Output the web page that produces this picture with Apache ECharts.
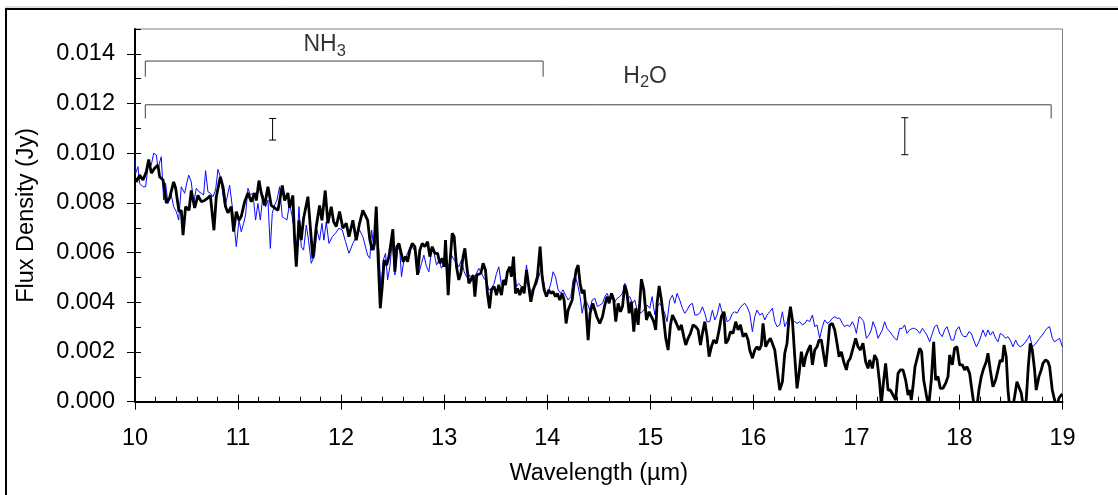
<!DOCTYPE html>
<html><head><meta charset="utf-8">
<script src="https://cdn.jsdelivr.net/npm/echarts@6/dist/echarts.min.js"></script>
<style>html,body{margin:0;padding:0;background:#fff}#c{width:1118px;height:495px}</style>
</head><body><div id="c"></div>
<script>
// Flux in mJy (axis labels shown in Jy), wavelength in micrometres
const blackSpectrum = [
[10.00,9.0],[10.013,8.85],[10.045,9.12],[10.078,8.92],[10.11,9.26],[10.133,9.75],[10.158,9.2],[10.191,9.4],[10.223,9.52],[10.239,9.05],[10.272,8.92],[10.304,8.0],[10.336,8.2],[10.375,8.85],[10.394,8.6],[10.427,7.65],[10.449,7.7],[10.466,6.7],[10.491,7.85],[10.524,7.7],[10.546,8.5],[10.579,7.8],[10.611,8.3],[10.643,8.05],[10.676,8.1],[10.708,8.2],[10.731,8.3],[10.766,6.9],[10.789,8.25],[10.828,9.05],[10.854,8.65],[10.879,7.85],[10.902,7.6],[10.934,7.85],[10.957,6.85],[10.983,7.65],[11.009,7.3],[11.031,7.45],[11.064,8.05],[11.096,8.4],[11.128,8.05],[11.161,8.4],[11.177,8.1],[11.203,8.9],[11.225,8.4],[11.258,7.9],[11.29,8.65],[11.322,7.9],[11.355,7.8],[11.387,7.7],[11.429,8.7],[11.452,8.1],[11.484,8.4],[11.5,7.8],[11.532,8.3],[11.549,6.5],[11.565,5.43],[11.591,7.3],[11.613,6.5],[11.636,7.38],[11.655,7.3],[11.678,8.25],[11.701,7.05],[11.726,5.77],[11.743,6.37],[11.759,7.05],[11.791,7.9],[11.814,7.3],[11.846,8.5],[11.872,7.18],[11.904,7.85],[11.927,7.25],[11.953,7.05],[11.985,7.65],[12.017,6.98],[12.05,7.18],[12.076,6.64],[12.114,7.3],[12.147,6.5],[12.179,7.18],[12.211,7.7],
[12.257,7.31],[12.279,6.51],[12.302,6.1],[12.321,6.37],[12.341,7.85],[12.36,5.7],[12.38,3.76],[12.399,4.63],[12.418,5.7],[12.441,5.5],[12.464,5.84],[12.483,6.37],[12.502,6.94],[12.522,5.23],[12.541,6.24],[12.561,6.37],[12.58,6.44],[12.603,5.63],[12.625,5.84],[12.645,5.63],[12.667,6.1],[12.69,6.37],[12.716,6.24],[12.742,5.1],[12.764,6.1],[12.787,6.37],[12.813,6.24],[12.839,6.44],[12.861,5.84],[12.884,6.24],[12.91,5.97],[12.936,5.97],[12.958,5.57],[12.981,5.77],[13.0,5.43],[13.013,6.51],[13.039,4.29],[13.058,5.7],[13.078,6.78],[13.097,6.64],[13.12,5.43],[13.142,4.9],[13.162,5.17],[13.184,5.84],[13.201,6.17],[13.22,5.43],[13.24,4.76],[13.259,4.9],[13.282,5.1],[13.298,4.23],[13.317,5.1],[13.336,5.03],[13.356,5.17],[13.378,5.57],[13.401,5.3],[13.42,4.36],[13.44,3.76],[13.459,4.5],[13.485,4.63],[13.508,4.29],[13.53,4.7],[13.556,4.29],[13.576,4.9],[13.595,4.7],[13.614,5.23],[13.637,5.43],[13.653,5.03],[13.673,5.84],[13.692,4.36],[13.712,4.56],[13.734,4.29],[13.757,4.63],[13.776,4.36],[13.799,5.3],[13.821,4.63],[13.841,4.02],[13.864,4.5],[13.886,4.76],[13.905,5.03],[13.931,6.24],[13.951,5.03],[13.97,4.5],[13.993,4.23],[14.015,4.5],[14.035,4.36],[14.057,4.43],[14.08,4.23],[14.099,4.36],[14.122,4.09],[14.145,4.36],[14.164,4.09],[14.183,3.15],[14.203,3.69],[14.222,3.69],[14.242,4.09],[14.261,4.76],[14.281,5.3],[14.3,5.5],[14.319,4.76],[14.339,4.36],[14.358,4.5],[14.377,3.69],[14.397,2.48],[14.416,3.56],[14.442,3.96],[14.462,3.69],[14.481,3.42],
[14.51,3.15],[14.536,3.42],[14.559,3.89],[14.581,4.23],[14.601,3.96],[14.623,4.36],[14.646,4.09],[14.665,3.22],[14.688,3.96],[14.711,3.62],[14.73,3.82],[14.753,4.7],[14.775,4.36],[14.795,3.56],[14.817,4.02],[14.84,2.82],[14.859,3.76],[14.882,3.09],[14.898,3.15],[14.914,4.93],[14.937,4.5],[14.963,3.29],[14.989,3.62],[15.011,3.42],[15.034,3.22],[15.053,2.89],[15.066,3.96],[15.086,4.66],[15.108,4.09],[15.131,3.29],[15.15,2.55],[15.173,2.08],[15.196,3.09],[15.215,3.49],[15.238,3.29],[15.26,3.09],[15.28,2.89],[15.302,3.09],[15.325,2.62],[15.344,2.28],[15.367,2.55],[15.39,2.75],[15.415,3.09],[15.441,3.02],[15.464,2.89],[15.487,2.28],[15.506,2.75],[15.529,3.22],[15.551,2.62],[15.571,1.81],[15.593,2.21],[15.616,2.48],[15.642,2.35],[15.668,2.89],[15.69,3.42],[15.713,3.62],[15.732,2.35],[15.755,2.48],[15.778,2.82],[15.803,2.75],[15.829,3.22],[15.852,2.89],[15.875,3.09],[15.9,2.62],[15.926,2.75],[15.949,2.48],[15.965,2.08],[15.991,1.75],[16.014,2.08],[16.036,2.21],[16.056,2.08],[16.078,2.28],[16.094,3.15],[16.12,2.21],[16.143,2.42],[16.166,2.55],[16.185,2.48],[16.208,2.08],[16.23,1.34],[16.256,0.47],[16.282,0.8],[16.305,1.95],[16.327,2.35],[16.347,3.42],[16.36,3.82],[16.379,3.29],[16.402,1.81],[16.424,0.54],[16.444,1.14],[16.466,2.01],[16.489,1.41],[16.508,1.81],[16.531,2.08],[16.554,2.28],[16.573,1.48],[16.596,2.08],[16.618,2.21],[16.638,2.48],[16.66,2.48],[16.683,1.88],[16.702,1.41],[16.725,2.35],
[16.741,3.09],[16.767,3.15],[16.79,2.89],[16.812,2.35],[16.832,1.81],[16.854,2.01],[16.877,1.61],[16.903,1.28],[16.919,1.61],[16.941,1.75],[16.967,2.15],[16.993,2.55],[17.016,2.21],[17.038,2.08],[17.064,2.35],[17.09,1.61],[17.113,1.34],[17.129,1.68],[17.155,1.34],[17.177,1.88],[17.2,1.68],[17.226,0.74],[17.242,-0.1],[17.265,0.87],[17.284,1.54],[17.307,0.47],[17.329,0.47],[17.355,0.27],[17.381,0.07],[17.404,1.14],[17.426,1.28],[17.452,1.28],[17.478,0.87],[17.501,0.27],[17.517,0.47],[17.533,0.07],[17.549,0.6],[17.569,1.41],[17.588,1.41],[17.614,2.15],[17.633,2.01],[17.653,0.87],[17.679,0.27],[17.701,-0.2],[17.727,0.87],[17.75,2.41],[17.769,0.87],[17.792,1.01],[17.814,0.54],[17.84,0.54],[17.866,0.74],[17.889,1.01],[17.905,1.88],[17.931,1.48],[17.953,2.15],[17.976,2.21],[18.002,1.48],[18.028,1.48],[18.05,1.28],[18.073,1.41],[18.099,1.14],[18.125,0.34],[18.147,-0.3],[18.17,-0.2],[18.189,0.47],[18.212,1.01],[18.235,1.34],[18.26,1.61],[18.277,1.95],[18.299,1.28],[18.325,0.6],[18.351,0.87],[18.374,1.28],[18.396,1.68],[18.416,1.61],[18.432,2.28],[18.454,1.81],[18.471,0.47],[18.487,-0.2],[18.513,-0.3],[18.535,0.2],[18.558,0.8],[18.577,0.87],[18.6,0.34],[18.623,-0.3],[18.648,0.07],[18.668,1.41],[18.687,2.35],[18.707,2.08],[18.729,1.28],[18.745,0.47],[18.771,1.01],[18.794,1.28],[18.81,1.54],[18.836,1.68],[18.859,1.61],[18.875,1.41],[18.901,0.47],[18.923,0.07],[18.946,-0.2],[18.965,0.14],[18.988,0.27],[19.0,0.3]
];
const blueSpectrum = [
[10.00,9.72],[10.006,9.19],[10.029,9.46],[10.045,8.79],[10.078,8.65],[10.103,8.65],[10.126,9.46],[10.158,9.52],[10.181,10.0],[10.207,9.93],[10.223,9.39],[10.255,9.86],[10.278,8.12],[10.297,8.79],[10.32,7.98],[10.352,8.32],[10.375,7.85],[10.401,7.65],[10.424,7.31],[10.449,8.65],[10.482,8.39],[10.498,8.72],[10.521,9.12],[10.546,8.85],[10.569,7.98],[10.595,8.59],[10.621,8.45],[10.643,8.39],[10.666,8.32],[10.685,9.3],[10.708,8.45],[10.731,8.39],[10.757,8.25],[10.782,8.52],[10.805,9.35],[10.828,9.05],[10.847,8.52],[10.87,7.85],[10.892,8.19],[10.918,8.72],[10.944,7.85],[10.967,6.91],[10.983,6.24],[11.009,7.31],[11.031,6.84],[11.054,7.18],[11.073,7.51],[11.096,8.59],[11.119,8.32],[11.144,8.39],[11.17,7.31],[11.193,7.98],[11.216,7.31],[11.241,8.32],[11.267,7.85],[11.29,8.11],[11.313,6.17],[11.332,7.58],[11.355,7.92],[11.377,8.11],[11.403,8.65],[11.429,7.44],[11.452,7.38],[11.474,7.31],[11.5,7.98],[11.526,7.44],[11.549,6.78],[11.571,6.24],[11.591,7.85],[11.613,6.24],[11.636,6.1],[11.662,7.11],[11.684,6.5],[11.71,5.57],[11.743,5.9],[11.765,6.91],[11.791,6.5],[11.814,7.18],[11.833,6.5],[11.856,7.24],[11.882,6.37],[11.914,6.64],[11.946,6.78],[11.979,6.98],[12.011,6.91],[12.043,6.44],[12.076,5.97],[12.114,6.37],[12.147,6.64],[12.179,6.91],[12.211,6.64],
[12.257,5.9],[12.279,5.77],[12.296,6.91],[12.321,6.1],[12.344,6.64],[12.367,6.1],[12.386,4.5],[12.409,5.7],[12.431,5.97],[12.451,4.9],[12.473,5.43],[12.496,6.44],[12.522,5.1],[12.548,6.1],[12.567,6.24],[12.586,5.03],[12.612,5.77],[12.635,5.9],[12.658,6.1],[12.683,6.31],[12.709,6.1],[12.732,5.97],[12.755,5.17],[12.78,5.57],[12.803,5.9],[12.829,5.43],[12.852,5.23],[12.877,6.1],[12.903,5.97],[12.926,5.5],[12.949,5.7],[12.974,5.37],[13.0,5.57],[13.023,5.7],[13.046,5.43],[13.071,5.9],[13.097,5.7],[13.12,5.57],[13.142,5.43],[13.168,5.7],[13.194,5.23],[13.217,5.03],[13.24,5.1],[13.265,5.03],[13.291,4.96],[13.314,5.17],[13.336,5.37],[13.362,5.17],[13.388,4.96],[13.411,4.83],[13.433,4.5],[13.459,4.56],[13.485,4.76],[13.508,5.17],[13.53,5.43],[13.556,4.7],[13.582,4.9],[13.605,4.96],[13.627,5.43],[13.653,5.03],[13.679,5.43],[13.702,4.63],[13.724,4.76],[13.75,4.63],[13.776,4.5],[13.799,5.5],[13.821,4.63],[13.847,4.43],[13.873,4.63],[13.896,4.7],[13.918,5.03],[13.944,5.37],[13.97,4.7],[13.993,4.23],[14.015,4.5],[14.035,4.76],[14.057,5.23],[14.08,5.03],[14.106,4.5],[14.132,4.36],[14.154,4.5],[14.177,4.29],[14.203,4.09],[14.229,4.23],[14.251,4.9],[14.274,5.03],[14.3,4.63],[14.319,4.23],[14.339,3.56],[14.365,4.09],[14.39,3.96],[14.413,3.69],[14.436,4.09],[14.462,4.16],[14.487,3.83],
[14.51,3.89],[14.536,3.96],[14.559,4.23],[14.581,4.36],[14.607,4.09],[14.633,4.36],[14.656,4.02],[14.678,4.16],[14.704,4.23],[14.73,4.36],[14.753,4.76],[14.775,4.09],[14.801,4.23],[14.827,3.96],[14.85,4.09],[14.872,3.69],[14.898,3.56],[14.924,3.62],[14.947,3.76],[14.969,3.89],[14.995,3.76],[15.018,4.23],[15.044,3.49],[15.066,3.82],[15.092,3.96],[15.118,3.76],[15.141,3.56],[15.163,3.22],[15.189,4.09],[15.215,4.29],[15.238,3.96],[15.26,4.36],[15.286,4.09],[15.312,3.76],[15.335,3.56],[15.357,3.69],[15.383,3.89],[15.409,3.96],[15.432,3.49],[15.454,3.49],[15.48,3.56],[15.506,3.82],[15.529,3.56],[15.551,3.22],[15.577,3.22],[15.603,3.69],[15.626,3.29],[15.648,3.49],[15.674,3.96],[15.7,3.56],[15.723,3.62],[15.745,3.22],[15.771,3.29],[15.797,3.56],[15.82,3.62],[15.842,3.56],[15.868,3.76],[15.894,3.89],[15.917,3.96],[15.939,3.82],[15.965,3.56],[15.991,2.82],[16.014,3.42],[16.036,3.69],[16.062,3.49],[16.088,3.56],[16.111,3.29],[16.133,3.49],[16.159,3.62],[16.185,3.76],[16.208,3.22],[16.23,3.02],[16.256,3.09],[16.282,3.62],[16.305,3.02],[16.327,3.22],[16.353,3.62],[16.379,3.29],[16.402,3.22],[16.424,3.15],[16.45,3.22],[16.476,3.09],[16.499,3.15],[16.521,3.29],[16.547,3.22],[16.573,3.49],[16.596,3.02],[16.618,3.09],[16.644,2.55],[16.67,3.02],[16.692,3.29],[16.715,3.15],
[16.741,3.22],[16.767,3.36],[16.79,3.42],[16.812,3.36],[16.838,3.36],[16.864,3.15],[16.886,3.02],[16.909,3.09],[16.935,3.02],[16.961,3.22],[16.983,3.02],[17.0,2.75],[17.026,3.42],[17.048,3.36],[17.071,3.22],[17.097,2.55],[17.122,2.68],[17.145,2.89],[17.161,3.22],[17.187,2.95],[17.21,2.55],[17.226,2.48],[17.252,2.89],[17.274,3.22],[17.297,2.95],[17.323,2.82],[17.349,2.68],[17.371,2.55],[17.394,2.48],[17.42,2.95],[17.446,2.95],[17.468,3.09],[17.491,2.75],[17.517,2.89],[17.543,2.95],[17.565,2.95],[17.588,2.89],[17.614,2.75],[17.64,2.95],[17.662,2.82],[17.685,2.68],[17.711,2.41],[17.737,2.75],[17.759,3.02],[17.782,3.09],[17.808,2.75],[17.834,2.62],[17.856,2.89],[17.879,3.02],[17.898,3.02],[17.921,2.48],[17.944,2.48],[17.97,2.89],[17.995,3.02],[18.018,2.75],[18.041,2.62],[18.067,2.62],[18.092,2.82],[18.115,2.75],[18.138,2.48],[18.164,2.21],[18.189,2.41],[18.212,2.68],[18.228,2.89],[18.254,2.62],[18.277,2.89],[18.299,2.68],[18.325,2.82],[18.351,2.55],[18.374,2.41],[18.396,2.75],[18.422,2.68],[18.448,2.55],[18.471,2.62],[18.493,2.48],[18.519,2.21],[18.545,2.48],[18.568,2.28],[18.59,2.21],[18.616,2.28],[18.642,2.41],[18.665,2.55],[18.681,2.68],[18.707,2.21],[18.729,2.28],[18.752,2.41],[18.778,2.55],[18.804,2.68],[18.826,2.82],[18.849,2.95],[18.875,3.02],[18.901,2.55],[18.923,2.41],[18.946,2.48],[18.972,2.55],[19.0,2.2]
];
const yTickValues = [0, 2, 4, 6, 8, 10, 12, 14];
const nh3Range = [10.1, 13.96];      // wavelength span of NH3 bracket
const nh3Levels = [13.71, 13.08];    // bar level, foot level (mJy)
const h2oRange = [10.1, 18.89];
const h2oLevels = [11.95, 11.4];
const errorBars = [[11.335, 10.53, 11.40], [17.47, 9.94, 11.43]]; // x, low, high
const labelPoints = [
  {text: 'NH{s|3}', at: [11.84, 14.35]},
  {text: 'H{s|2}O', at: [14.95, 13.08]}
];

const FONT = '"Liberation Sans", Arial, Helvetica, sans-serif';
const bracket = (r, lv) => [[r[0], lv[1]], [r[0], lv[0]], [r[1], lv[0]], [r[1], lv[1]]];

const chart = echarts.init(document.getElementById('c'), null, {renderer: 'canvas'});
const txt = {color: '#000', fontFamily: FONT, fontSize: 23.5};
chart.setOption({
  animation: false,
  backgroundColor: '#fff',
  grid: {left: 135, right: 55.5, top: 29, bottom: 93.3, show: true, borderColor: '#808080', borderWidth: 1},
  xAxis: [
    {type: 'value', min: 10, max: 19, interval: 1, position: 'bottom',
     axisLine: {show: true, onZero: false, lineStyle: {color: '#000', width: 2}},
     axisTick: {show: true, inside: false, length: 8, lineStyle: {color: '#000', width: 1}},
     axisLabel: Object.assign({show: true, margin: 25}, txt),
     splitLine: {show: false},
     name: 'Wavelength (µm)', nameLocation: 'middle', nameGap: 60, nameTextStyle: txt},
    {type: 'value', min: 10, max: 19, interval: 1, position: 'bottom',
     axisLine: {show: false},
     axisTick: {show: true, inside: true, length: 7, lineStyle: {color: '#000', width: 1}},
     minorTick: {show: true, splitNumber: 5, length: 5, lineStyle: {color: '#000', width: 1}},
     axisLabel: {show: false}, splitLine: {show: false}}
  ],
  yAxis: [
    {type: 'value', min: 0, max: 15, interval: 2, position: 'left',
     axisLine: {show: true, onZero: false, lineStyle: {color: '#000', width: 2}},
     axisTick: {show: true, inside: false, length: 8, customValues: yTickValues, lineStyle: {color: '#000', width: 1}},
     axisLabel: Object.assign({show: true, margin: 20, customValues: yTickValues,
       formatter: v => (v / 1000).toFixed(3)}, txt),
     splitLine: {show: false},
     name: 'Flux Density (Jy)', nameLocation: 'middle', nameGap: 96, nameRotate: 90, nameTextStyle: txt},
    {type: 'value', min: 0, max: 15, interval: 1, position: 'left',
     axisLine: {show: false},
     axisTick: {show: true, inside: true, length: 6, lineStyle: {color: '#000', width: 1}},
     axisLabel: {show: false}, splitLine: {show: false}}
  ],
  series: [
    {type: 'line', name: 'model', data: blueSpectrum, showSymbol: false, symbol: 'none', clip: true,
     lineStyle: {color: '#0a0aff', width: 1}, z: 2},
    {type: 'line', name: 'observed', data: blackSpectrum, showSymbol: false, symbol: 'none', clip: true,
     lineStyle: {color: '#000', width: 2.8}, z: 3},
    {type: 'line', data: bracket(nh3Range, nh3Levels), showSymbol: false, symbol: 'none',
     lineStyle: {color: '#444', width: 1}, z: 4},
    {type: 'line', data: bracket(h2oRange, h2oLevels), showSymbol: false, symbol: 'none',
     lineStyle: {color: '#444', width: 1}, z: 4},
    {type: 'custom', data: errorBars, z: 5,
     renderItem: (params, api) => {
       const x = api.value(0);
       const lo = api.coord([x, api.value(1)]);
       const hi = api.coord([x, api.value(2)]);
       const st = {stroke: '#000', lineWidth: 1};
       return {type: 'group', children: [
         {type: 'line', shape: {x1: lo[0], y1: lo[1], x2: hi[0], y2: hi[1]}, style: st},
         {type: 'line', shape: {x1: lo[0] - 3.5, y1: lo[1], x2: lo[0] + 3.5, y2: lo[1]}, style: st},
         {type: 'line', shape: {x1: hi[0] - 3.5, y1: hi[1], x2: hi[0] + 3.5, y2: hi[1]}, style: st}
       ]};
     }},
    {type: 'scatter', symbolSize: 0, z: 6,
     data: labelPoints.map(p => ({value: p.at, label: {formatter: p.text}})),
     label: {show: true, position: 'inside', color: '#000', fontFamily: FONT, fontSize: 23,
       rich: {s: {fontSize: 16.5, fontFamily: FONT, color: '#000', padding: [12, 0, 0, 0]}}}}
  ],
  graphic: [
    {type: 'line', silent: true, z: 100, shape: {x1: 5, y1: 7, x2: 1118, y2: 7}, style: {stroke: '#c0c0c0', lineWidth: 1}},
    {type: 'rect', silent: true, z: 100, shape: {x: 6, y: 9, width: 1200, height: 600}, style: {fill: 'none', stroke: '#000', lineWidth: 2}}
  ]
});
</script>
</body></html>
